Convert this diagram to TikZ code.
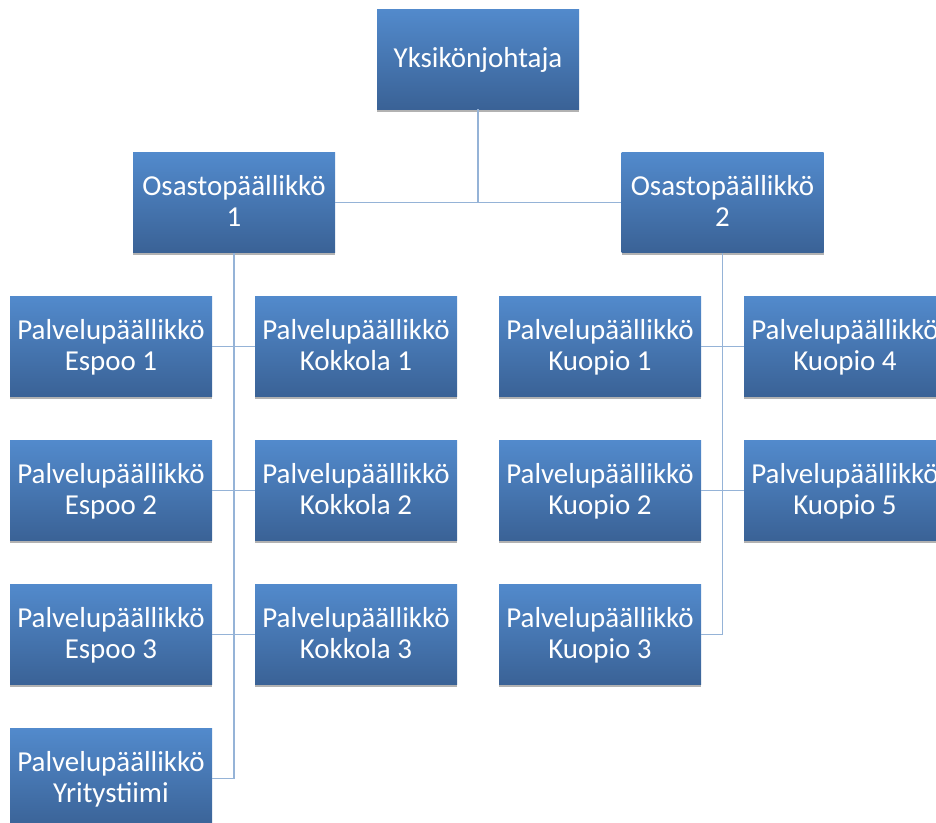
\documentclass[tikz,border=0pt]{standalone}
\usepackage{fontspec}
\setmainfont{Carlito}
\usepackage{tikz}
\usetikzlibrary{positioning, shadows}
\definecolor{boxtop}{RGB}{82,138,204}
\definecolor{boxbottom}{RGB}{58,98,150}
\definecolor{linkblue}{RGB}{149,179,215}
\tikzstyle{box}  = [rectangle, minimum width=151.5pt, minimum height=75pt, inner sep=0pt,
                    text centered, align=center, text=white, draw=none,
                    top color=boxtop, bottom color=boxbottom,
                    drop shadow={shadow xshift=0pt, shadow yshift=-2pt, opacity=0.3, fill=black},
                    text height=36pt, text depth=0pt,
                    font=\fontsize{21.7}{23.5}\selectfont]
\tikzstyle{link} = [draw=linkblue, line width=1.3pt]

\begin{document}
\begin{tikzpicture}[x=0.75pt, y=-0.75pt]
    \useasboundingbox (0,0) rectangle (936,822);

    \node (top) [box, text height=12pt] at (478,59) {Yksikönjohtaja};

    \node (o1) [box] at (234,202.5) {Osastopäällikkö\\1};
    \node (o2) [box] at (722.5,202.5) {Osastopäällikkö\\2};

    % osasto 1
    \node (e1) [box] at (111,346.5) {Palvelupäällikkö\\Espoo 1};
    \node (e2) [box, below=32.6pt of e1] {Palvelupäällikkö\\Espoo 2};
    \node (e3) [box, below=32.6pt of e2] {Palvelupäällikkö\\Espoo 3};
    \node (y1) [box, below=32.6pt of e3] {Palvelupäällikkö\\Yritystiimi};
    \node (k1) [box] at (356,346.5) {Palvelupäällikkö\\Kokkola 1};
    \node (k2) [box, below=32.6pt of k1] {Palvelupäällikkö\\Kokkola 2};
    \node (k3) [box, below=32.6pt of k2] {Palvelupäällikkö\\Kokkola 3};

    % osasto 2
    \node (ku1) [box] at (600,346.5) {Palvelupäällikkö\\Kuopio 1};
    \node (ku2) [box, below=32.6pt of ku1] {Palvelupäällikkö\\Kuopio 2};
    \node (ku3) [box, below=32.6pt of ku2] {Palvelupäällikkö\\Kuopio 3};
    \node (ku4) [box] at (845,346.5) {Palvelupäällikkö\\Kuopio 4};
    \node (ku5) [box, below=32.6pt of ku4] {Palvelupäällikkö\\Kuopio 5};

    \draw[link] (top) |- (o1);
    \draw[link] (top) |- (o2);
    \draw[link] (o1) |- (y1);
    \draw[link] (e1) -- (k1);
    \draw[link] (e2) -- (k2);
    \draw[link] (e3) -- (k3);
    \draw[link] (o2) |- (ku3);
    \draw[link] (ku1) -- (ku4);
    \draw[link] (ku2) -- (ku5);
\end{tikzpicture}
\end{document}
